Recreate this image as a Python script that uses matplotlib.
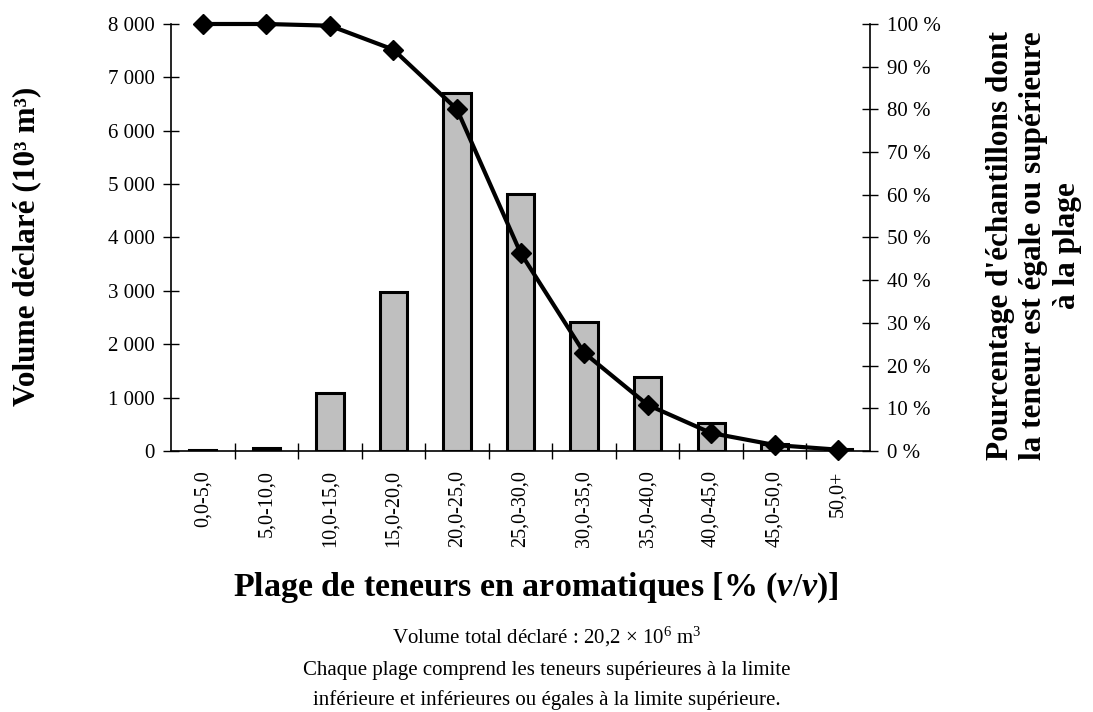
#!/usr/bin/env python3
"""Volume déclaré par plage de teneurs en aromatiques (barres + courbe cumulée)."""
import numpy as np
import matplotlib
matplotlib.use('Agg')
import matplotlib.pyplot as plt
from matplotlib.ticker import FixedLocator, FuncFormatter

plt.rcParams.update({
    'font.family': 'Liberation Serif',
    'mathtext.fontset': 'custom',
    'mathtext.rm': 'Liberation Serif',
    'mathtext.it': 'Liberation Serif:italic:bold',
    'mathtext.bf': 'Liberation Serif:bold',
})

categories = ['0,0-5,0', '5,0-10,0', '10,0-15,0', '15,0-20,0', '20,0-25,0',
              '25,0-30,0', '30,0-35,0', '35,0-40,0', '40,0-45,0', '45,0-50,0', '50,0+']
volumes = [20, 60, 1085, 2980, 6705, 4815, 2420, 1385, 525, 130, 40]
pct_cumul = [100, 100, 99.6, 94.0, 80.0, 46.4, 23.0, 10.8, 4.2, 1.4, 0.3]

BAR_FILL = '#bfbfbf'

fig = plt.figure(figsize=(10.93, 7.12), dpi=100)
ax = fig.add_axes([0.1565, 0.3666, 0.6395, 0.5997])
x = np.arange(len(categories))

ax.bar(x, volumes, width=0.43, color=BAR_FILL, edgecolor='black', linewidth=2.2, zorder=3)
ax.set_xlim(-0.5, len(categories) - 0.5)
ax.set_ylim(0, 8000)
ax.set_yticks(np.arange(0, 8001, 1000))
ax.yaxis.set_major_formatter(FuncFormatter(lambda v, p: f'{int(v):,}'.replace(',', ' ')))
ax.tick_params(axis='y', direction='inout', length=12, width=1, labelsize=15, pad=6)

ax.set_xticks(x)
ax.set_xticklabels(categories, rotation=90, fontsize=14.5)
ax.tick_params(axis='x', which='major', length=0, pad=14)
ax.xaxis.set_minor_locator(FixedLocator(np.arange(0.5, len(categories) - 0.5, 1)))
ax.tick_params(axis='x', which='minor', direction='inout', length=12, width=1)

for side in ['top', 'right']:
    ax.spines[side].set_visible(False)
ax.spines['left'].set_linewidth(1.2)
ax.spines['bottom'].set_linewidth(1.2)

ax2 = ax.twinx()
ax2.plot(x, pct_cumul, color='black', lw=3, marker='D', markersize=10.5,
         zorder=5, clip_on=False)
ax2.set_ylim(0, 100)
ax2.set_yticks(np.arange(0, 101, 10))
ax2.yaxis.set_major_formatter(FuncFormatter(lambda v, p: f'{int(v)} %'))
ax2.tick_params(axis='y', direction='inout', length=12, width=1, labelsize=15, pad=6)
for side in ['top', 'left', 'bottom']:
    ax2.spines[side].set_visible(False)
ax2.spines['right'].set_linewidth(1.2)

# axis titles placed directly on the figure
fig.text(27 / 1093, 1 - 246 / 712, 'Volume déclaré (10³ m³)', fontsize=22.5,
         fontweight='bold', rotation=90, ha='center', va='center')
fig.text(1034 / 1093, 1 - 246 / 712,
         "Pourcentage d'échantillons dont\nla teneur est égale ou supérieure\nà la plage",
         fontsize=22.5, fontweight='bold', rotation=90, ha='center', va='center',
         multialignment='center', linespacing=1.22)

fig.text(0.49, 0.175, 'Plage de teneurs en aromatiques [% ($v/v$)]',
         fontsize=24.5, fontweight='bold', ha='center', va='center')
fig.text(0.5, 0.106, 'Volume total déclaré : 20,2 × 10$^{6}$ m$^{3}$',
         fontsize=15, ha='center', va='center')
fig.text(0.5, 0.058, 'Chaque plage comprend les teneurs supérieures à la limite',
         fontsize=15, ha='center', va='center')
fig.text(0.5, 0.017, 'inférieure et inférieures ou égales à la limite supérieure.',
         fontsize=15, ha='center', va='center')

plt.savefig('out.png', dpi=100)
plt.close()
